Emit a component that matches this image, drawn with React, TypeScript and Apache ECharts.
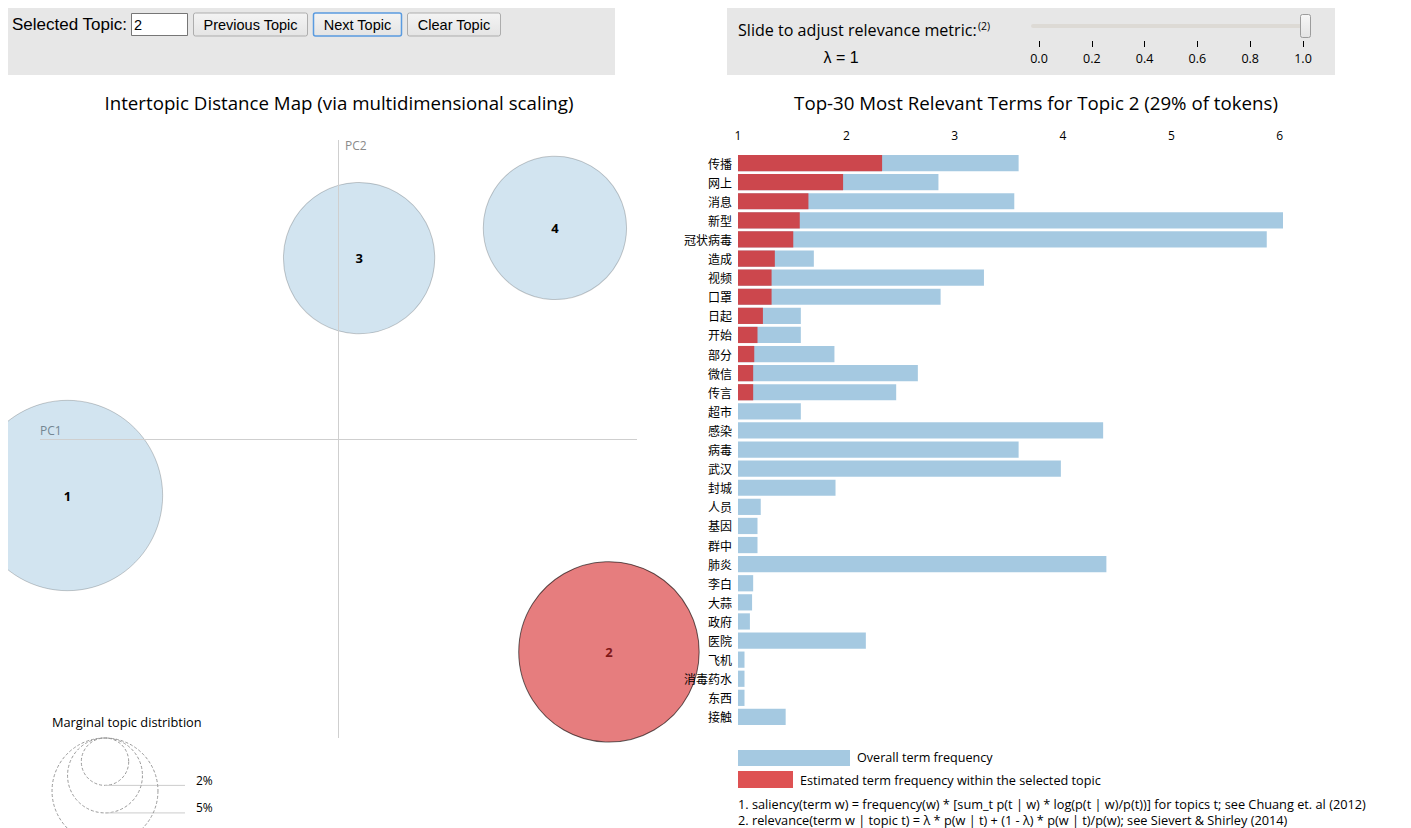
import React, { useEffect, useRef } from "react";
import * as echarts from "echarts";

// ---------- data ----------
const terms = ["传播", "网上", "消息", "新型", "冠状病毒", "造成", "视频", "口罩", "日起", "开始", "部分", "微信", "传言", "超市", "感染", "病毒", "武汉", "封城", "人员", "基因", "群中", "肺炎", "李白", "大蒜", "政府", "医院", "飞机", "消毒药水", "东西", "接触"];
const overallFreq = [3.59, 2.85, 3.55, 6.03, 5.88, 1.70, 3.27, 2.87, 1.58, 1.58, 1.89, 2.66, 2.46, 1.58, 4.37, 3.59, 3.98, 1.90, 1.21, 1.18, 1.18, 4.40, 1.14, 1.13, 1.11, 2.18, 1.06, 1.06, 1.06, 1.44];
const topicTermFreq: (number | null)[] = [2.33, 1.97, 1.65, 1.57, 1.51, 1.34, 1.31, 1.31, 1.23, 1.18, 1.15, 1.14, 1.14, null, null, null, null, null, null, null, null, null, null, null, null, null, null, null, null, null];
const freqTicks = [1, 2, 3, 4, 5, 6];

const topicIds = [1, 2, 3, 4];
const topicPC1 = [-0.908, 0.906, 0.069, 0.725];
const topicPC2 = [-0.189, -0.712, 0.605, 0.706];
const topicShare = [32.3, 29.0, 20.4, 18.3];
const selectedTopic = 2;
const marginalLegend = [2, 5, 10];
const lambdaTicks = [0, 0.2, 0.4, 0.6, 0.8, 1.0];

const O = 8; // body margin offset
const X = (x: number) => x - O;
const Y = (y: number) => y - O;
const K = 16.75; // radius per sqrt(% of tokens)

const LAT = "'Liberation Sans', Arial, sans-serif";
const OPS = "'Open Sans', sans-serif";
const CJK = "'Noto Sans CJK SC', sans-serif";

function button(x: number, w: number, label: string, focused: boolean) {
  return {
    type: "group",
    children: [
      {
        type: "rect",
        shape: { x: X(x), y: Y(13), width: w, height: 23, r: 2 },
        style: {
          fill: new echarts.graphic.LinearGradient(0, 0, 0, 1, [
            { offset: 0, color: "#f4f4f4" },
            { offset: 1, color: "#e4e4e4" },
          ]),
          stroke: focused ? "#5a9be0" : "#adadad",
          lineWidth: focused ? 1.5 : 1,
        },
      },
      {
        type: "text",
        x: X(x) + w / 2,
        y: Y(24.5),
        style: { text: label, font: `14.5px ${LAT}`, fill: "#000", align: "center", verticalAlign: "middle" },
      },
    ],
  };
}

export default function App() {
  const ref = useRef<HTMLDivElement>(null);
  useEffect(() => {
    document.documentElement.style.overflow = "hidden";
    const chart = echarts.init(ref.current!, null, { renderer: "svg" });

    const scatterData = topicIds.map((id, i) => {
      const sel = id === selectedTopic;
      return {
        name: String(id),
        value: [topicPC1[i], topicPC2[i], topicShare[i]],
        itemStyle: {
          color: sel ? "rgba(214,39,40,0.6)" : "rgba(31,119,180,0.2)",
          borderColor: sel ? "rgba(0,0,0,0.6)" : "rgba(0,0,0,0.2)",
          borderWidth: 1,
          opacity: 1,
        },
        label: { color: sel ? "#801718" : "#000" },
      };
    });

    const graphics: any[] = [
      // left control panel
      { type: "rect", shape: { x: X(7), y: Y(7), width: 608, height: 68 }, style: { fill: "#e7e7e7" } },
      { type: "text", x: X(12), y: Y(24.5), style: { text: "Selected Topic:", font: `17px ${LAT}`, fill: "#000", verticalAlign: "middle" } },
      { type: "rect", shape: { x: X(131.5), y: Y(13.5), width: 56, height: 22 }, style: { fill: "#fff", stroke: "#767676", lineWidth: 1 } },
      { type: "text", x: X(134), y: Y(24.5), style: { text: "2", font: `14.5px ${LAT}`, fill: "#000", verticalAlign: "middle" } },
      button(193.5, 114, "Previous Topic", false),
      button(313.5, 88, "Next Topic", true),
      button(407.5, 93, "Clear Topic", false),
      // right control panel
      { type: "rect", shape: { x: X(727), y: Y(7), width: 608, height: 68 }, style: { fill: "#e7e7e7" } },
      { type: "text", x: X(738), y: Y(29.5), style: { text: "Slide to adjust relevance metric:", font: `16.1px ${OPS}`, fill: "#000", verticalAlign: "middle" } },
      { type: "text", x: X(978), y: Y(26), style: { text: "(2)", font: `10.5px ${OPS}`, fill: "#000", verticalAlign: "middle" } },
      { type: "text", x: X(841), y: Y(57), style: { text: "λ = 1", font: `16px ${LAT}`, fill: "#000", align: "center", verticalAlign: "middle" } },
      { type: "rect", shape: { x: X(1031), y: Y(24), width: 272, height: 4, r: 2 }, style: { fill: "#dddad5" } },
      {
        type: "rect",
        shape: { x: X(1300.5), y: Y(14.5), width: 10, height: 23, r: 2 },
        style: {
          fill: new echarts.graphic.LinearGradient(0, 0, 0, 1, [
            { offset: 0, color: "#f7f7f7" },
            { offset: 1, color: "#e3e3e3" },
          ]),
          stroke: "#9c9c9c",
          lineWidth: 1,
        },
      },
      // titles
      { type: "text", x: X(339), y: Y(102), style: { text: "Intertopic Distance Map (via multidimensional scaling)", font: `18.7px ${OPS}`, fill: "#000", align: "center", verticalAlign: "middle" } },
      { type: "text", x: X(1036), y: Y(102), style: { text: "Top-30 Most Relevant Terms for Topic 2 (29% of tokens)", font: `18.7px ${OPS}`, fill: "#000", align: "center", verticalAlign: "middle" } },
      // PC labels
      { type: "text", x: X(40), y: Y(430), style: { text: "PC1", font: `12px ${OPS}`, fill: "#8a8a8a", verticalAlign: "middle" } },
      { type: "text", x: X(345), y: Y(145), style: { text: "PC2", font: `12px ${OPS}`, fill: "#8a8a8a", verticalAlign: "middle" } },
      // marginal legend
      { type: "text", x: X(52), y: Y(722), style: { text: "Marginal topic distribtion", font: `12.8px ${OPS}`, fill: "#000", verticalAlign: "middle" } },
      // bar legend
      { type: "rect", shape: { x: X(738), y: Y(750), width: 112, height: 16 }, style: { fill: "#1f77b4", opacity: 0.4 } },
      { type: "text", x: X(857), y: Y(757.5), style: { text: "Overall term frequency", font: `12.6px ${OPS}`, fill: "#000", verticalAlign: "middle" } },
      { type: "rect", shape: { x: X(738), y: Y(771), width: 55, height: 17 }, style: { fill: "#d62728", opacity: 0.8 } },
      { type: "text", x: X(800), y: Y(779.5), style: { text: "Estimated term frequency within the selected topic", font: `12.7px ${OPS}`, fill: "#000", verticalAlign: "middle" } },
      { type: "text", x: X(738), y: Y(804), style: { text: "1. saliency(term w) = frequency(w) * [sum_t p(t | w) * log(p(t | w)/p(t))] for topics t; see Chuang et. al (2012)", font: `12.75px ${OPS}`, lineHeight: 14, fill: "#000", verticalAlign: "middle" } },
      { type: "text", x: X(738), y: Y(819.5), style: { text: "2. relevance(term w | topic t) = λ * p(w | t) + (1 - λ) * p(w | t)/p(w); see Sievert & Shirley (2014)", font: `12.75px ${OPS}`, lineHeight: 14, fill: "#000", verticalAlign: "middle" } },
    ];

    marginalLegend.forEach((p) => {
      const r = K * Math.sqrt(p);
      const cy = Y(738) + r;
      graphics.push({ type: "circle", shape: { cx: X(105), cy, r }, style: { fill: "none", stroke: "#9a9a9a", lineWidth: 1, lineDash: [3, 2] } });
      if (cy + r < 820) {
        graphics.push({ type: "line", shape: { x1: X(105), y1: cy + r, x2: X(185), y2: cy + r }, style: { stroke: "#cccccc", lineWidth: 1 } });
        graphics.push({ type: "text", x: X(196), y: cy + r + 1, style: { text: `${p}%`, font: `12px ${OPS}`, fill: "#000", verticalAlign: "bottom" } });
      }
    });

    chart.setOption({
      animation: false,
      grid: [
        { left: X(738), top: Y(153.5), width: 545, height: 573 },
        { left: X(40), top: Y(140), width: 597, height: 598 },
        { left: X(1039), top: Y(40), width: 264, height: 1 },
      ],
      xAxis: [
        {
          type: "value",
          gridIndex: 0,
          position: "top",
          min: 1,
          max: 6.03,
          interval: 1,
          startValue: 1,
          axisLine: { show: false },
          axisTick: { show: false },
          splitLine: { show: false },
          axisLabel: {
            margin: 12,
            fontSize: 12,
            color: "#000",
            fontFamily: OPS,
            formatter: (v: number) => (freqTicks.includes(v) ? String(v) : ""),
          },
        },
        { type: "value", gridIndex: 1, min: -1, max: 1, show: false },
        {
          type: "value",
          gridIndex: 2,
          position: "bottom",
          min: 0,
          max: 1,
          interval: 0.2,
          axisLine: { show: false },
          axisTick: { show: true, length: 6, lineStyle: { color: "#000" } },
          splitLine: { show: false },
          axisLabel: {
            margin: 11,
            fontSize: 12.5,
            color: "#000",
            fontFamily: OPS,
            formatter: (v: number) => (lambdaTicks.some((t) => Math.abs(t - v) < 1e-9) ? v.toFixed(1) : ""),
          },
        },
      ],
      yAxis: [
        {
          type: "category",
          gridIndex: 0,
          data: terms,
          inverse: true,
          z: 10,
          axisLine: { show: false },
          axisTick: { show: false },
          axisLabel: { margin: 6, fontSize: 12, color: "#000", fontFamily: CJK },
        },
        { type: "value", gridIndex: 1, min: -1, max: 1, show: false },
        { type: "value", gridIndex: 2, min: 0, max: 1, show: false },
      ],
      series: [
        {
          type: "bar",
          xAxisIndex: 0,
          yAxisIndex: 0,
          data: overallFreq,
          barCategoryGap: "15%",
          barGap: "-100%",
          clip: true,
          itemStyle: { color: "#1f77b4", opacity: 0.4 },
          silent: true,
        },
        {
          type: "bar",
          xAxisIndex: 0,
          yAxisIndex: 0,
          data: topicTermFreq.map((v) => (v == null ? "-" : v)),
          barCategoryGap: "15%",
          barGap: "-100%",
          clip: true,
          itemStyle: { color: "#d62728", opacity: 0.8 },
          silent: true,
        },
        {
          type: "scatter",
          xAxisIndex: 1,
          yAxisIndex: 1,
          clip: false,
          data: scatterData,
          symbolSize: (v: number[]) => 2 * K * Math.sqrt(v[2]),
          label: {
            show: true,
            position: "inside",
            formatter: (p: any) => p.name,
            fontSize: 13,
            fontWeight: "bold",
            fontFamily: OPS,
          },
          markLine: {
            silent: true,
            symbol: "none",
            label: { show: false },
            lineStyle: { color: "#cfcfcf", width: 1, type: "solid" },
            data: [{ yAxis: 0 }, { xAxis: 0 }],
          },
          z: 2,
        },
        { type: "scatter", xAxisIndex: 2, yAxisIndex: 2, data: [] },
      ],
      graphic: graphics,
    });
    return () => chart.dispose();
  }, []);
  return <div ref={ref} style={{ width: 1395, height: 820 }} />;
}
